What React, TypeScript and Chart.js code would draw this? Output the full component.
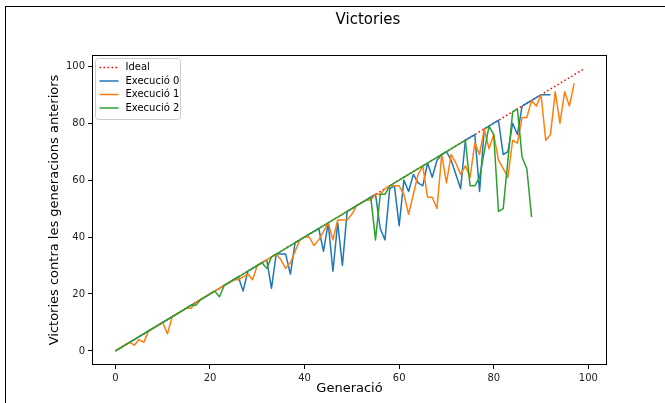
import React, { useEffect, useRef } from "react";
import { Chart, registerables } from "chart.js";

Chart.register(...registerables);

const TITLE = "Victories";
const X_TITLE = "Generació";
const Y_TITLE = "Victories contra les generacions anteriors";
const SERIES_LABELS = ["Ideal", "Execució 0", "Execució 1", "Execució 2"];
const SERIES_COLORS = ["#ff0000", "#1f77b4", "#ff7f0e", "#2ca02c"];
const TICKS = [0, 20, 40, 60, 80, 100];

const IDEAL = [
  0, 1, 2, 3, 4, 5, 6, 7, 8, 9,
  10, 11, 12, 13, 14, 15, 16, 17, 18, 19,
  20, 21, 22, 23, 24, 25, 26, 27, 28, 29,
  30, 31, 32, 33, 34, 35, 36, 37, 38, 39,
  40, 41, 42, 43, 44, 45, 46, 47, 48, 49,
  50, 51, 52, 53, 54, 55, 56, 57, 58, 59,
  60, 61, 62, 63, 64, 65, 66, 67, 68, 69,
  70, 71, 72, 73, 74, 75, 76, 77, 78, 79,
  80, 81, 82, 83, 84, 85, 86, 87, 88, 89,
  90, 91, 92, 93, 94, 95, 96, 97, 98, 99,
];

const EXEC0 = [
  0, 1, 2, 3, 4, 5, 6, 7, 8, 9,
  10, 11, 12, 13, 14, 15, 16, 17, 18, 19,
  20, 21, 22, 23, 24, 25, 26, 21, 28, 29,
  30, 31, 32, 22, 34, 34, 34, 27, 38, 39,
  40, 41, 42, 43, 35, 45, 28, 45, 30, 49,
  50, 51, 52, 53, 54, 55, 43, 39, 57, 58,
  44, 60, 56, 62, 59, 58, 66, 61, 67, 69,
  70, 67, 62, 57, 74, 75, 76, 56, 78, 79,
  80, 81, 69, 70, 80, 76, 86, 87, 88, 89,
  90, 90, 90,
];

const EXEC1 = [
  0, 1, 2, 3, 2, 4, 3, 7, 8, 9,
  10, 6, 12, 13, 14, 15, 15, 17, 18, 19,
  20, 21, 22, 23, 24, 25, 25, 26, 27, 25,
  30, 31, 32, 33, 34, 32, 29, 31, 35, 39,
  40, 40, 37, 39, 42, 45, 39, 46, 46, 46,
  48, 51, 52, 53, 53, 55, 55, 57, 58, 58,
  58, 55, 48, 55, 62, 65, 54, 54, 50, 69,
  59, 69, 66, 62, 65, 61, 73, 69, 78, 71,
  76, 67, 64, 61, 74, 73, 82, 82, 88, 86,
  90, 74, 76, 91, 80, 91, 86, 94,
];

const EXEC2 = [
  0, 1, 2, 3, 4, 5, 6, 7, 8, 9,
  10, 11, 12, 13, 14, 15, 16, 16, 18, 19,
  20, 21, 19, 23, 24, 25, 26, 27, 28, 29,
  30, 31, 29, 33, 34, 35, 36, 37, 38, 39,
  40, 41, 42, 43, 44, 45, 46, 47, 48, 49,
  50, 51, 52, 53, 54, 39, 55, 55, 58, 59,
  60, 61, 62, 63, 64, 65, 66, 67, 68, 69,
  70, 71, 72, 73, 74, 58, 58, 61, 70, 79,
  76, 49, 50, 67, 84, 85, 68, 64, 47,
];

const FONT = '"DejaVu Sans", sans-serif';

const toPoints = (ys: number[]) => ys.map((y, i) => ({ x: i, y }));

const decorPlugin = {
  id: "decor",
  afterDatasetsDraw(chart: any) {
    const { ctx, chartArea } = chart;
    const { left, top, right, bottom } = chartArea;
    ctx.save();
    ctx.strokeStyle = "#000";
    ctx.lineWidth = 1;
    ctx.strokeRect(Math.round(left) + 0.5, Math.round(top) + 0.5, Math.round(right - left) - 1, Math.round(bottom - top) - 1);
    ctx.restore();
  },
  afterDraw(chart: any) {
    const { ctx, chartArea } = chart;
    const { left, top, right, bottom } = chartArea;
    const cx = (left + right) / 2;
    const cy = (top + bottom) / 2;
    ctx.save();
    ctx.fillStyle = "#000";
    ctx.textAlign = "center";
    ctx.textBaseline = "middle";
    ctx.font = `15px ${FONT}`;
    ctx.fillText(TITLE, 368, 20);
    ctx.font = `13px ${FONT}`;
    ctx.fillText(X_TITLE, cx, 389);
    ctx.save();
    ctx.translate(55, cy);
    ctx.rotate(-Math.PI / 2);
    ctx.fillText(Y_TITLE, 0, 0);
    ctx.restore();

    // legend
    const bx = left + 3.5;
    const by = top + 3.5;
    const bw = 85;
    const bh = 61;
    ctx.beginPath();
    (ctx as any).roundRect(bx, by, bw, bh, 3);
    ctx.fillStyle = "rgba(255,255,255,0.8)";
    ctx.fill();
    ctx.strokeStyle = "#cccccc";
    ctx.lineWidth = 1;
    ctx.stroke();
    const rowY = [by + 9, by + 22.5, by + 36, by + 49.5];
    SERIES_LABELS.forEach((lab, i) => {
      const y = rowY[i];
      ctx.beginPath();
      ctx.strokeStyle = SERIES_COLORS[i];
      ctx.lineWidth = 1.5;
      ctx.setLineDash(i === 0 ? [1.5, 2.5] : []);
      ctx.moveTo(bx + 4, y);
      ctx.lineTo(bx + 23, y);
      ctx.stroke();
      ctx.setLineDash([]);
      ctx.fillStyle = "#000";
      ctx.textAlign = "left";
      ctx.font = `10px ${FONT}`;
      ctx.fillText(lab, bx + 30, y);
    });
    ctx.restore();
  },
};

export default function App() {
  const canvasRef = useRef<HTMLCanvasElement | null>(null);

  useEffect(() => {
    const canvas = canvasRef.current;
    if (!canvas) return;
    const lineCommon = {
      pointRadius: 0,
      borderWidth: 1.5,
      fill: false,
      tension: 0,
      borderJoinStyle: "round" as const,
    };
    const chart = new Chart(canvas, {
      type: "line",
      data: {
        datasets: [
          { ...lineCommon, label: SERIES_LABELS[0], data: toPoints(IDEAL), borderColor: SERIES_COLORS[0], borderDash: [1.5, 2.5], order: 3 },
          { ...lineCommon, label: SERIES_LABELS[1], data: toPoints(EXEC0), borderColor: SERIES_COLORS[1], order: 2 },
          { ...lineCommon, label: SERIES_LABELS[2], data: toPoints(EXEC1), borderColor: SERIES_COLORS[2], order: 1 },
          { ...lineCommon, label: SERIES_LABELS[3], data: toPoints(EXEC2), borderColor: SERIES_COLORS[3], order: 0 },
        ],
      },
      options: {
        responsive: false,
        animation: false,
        events: [],
        layout: { padding: { left: 0, top: 55, right: 58, bottom: 0 } },
        plugins: {
          legend: { display: false },
          title: { display: false },
          tooltip: { enabled: false },
        },
        scales: {
          x: {
            type: "linear",
            min: -4.95,
            max: 103.95,
            afterFit: (s: any) => {
              s.height = 38;
            },
            afterBuildTicks: (s: any) => {
              s.ticks = TICKS.map((v) => ({ value: v }));
            },
            ticks: {
              font: { family: FONT, size: 10 },
              color: "#222",
              padding: 3,
              maxRotation: 0,
              autoSkip: false,
              includeBounds: false,
            },
            grid: { drawOnChartArea: false, drawTicks: true, tickLength: 4, color: "#000" },
            border: { display: false },
          },
          y: {
            type: "linear",
            min: -4.95,
            max: 103.95,
            afterFit: (s: any) => {
              s.width = 92;
            },
            afterBuildTicks: (s: any) => {
              s.ticks = TICKS.map((v) => ({ value: v }));
            },
            ticks: {
              font: { family: FONT, size: 10 },
              color: "#222",
              padding: 3,
              autoSkip: false,
              includeBounds: false,
            },
            grid: { drawOnChartArea: false, drawTicks: true, tickLength: 4, color: "#000" },
            border: { display: false },
          },
        },
      },
      plugins: [decorPlugin],
    } as any);
    return () => chart.destroy();
  }, []);

  return (
    <div
      style={{
        position: "absolute",
        left: 0,
        top: 0,
        width: 665,
        height: 403,
        overflow: "hidden",
        background: "#fff",
      }}
    >
      <div
        style={{
          position: "absolute",
          left: 5,
          top: 6,
          width: 800,
          height: 600,
          borderLeft: "1px solid #000",
          borderTop: "1px solid #000",
        }}
      />
      <canvas
        ref={canvasRef}
        width={665}
        height={403}
        style={{ position: "absolute", left: 0, top: 0, width: 665, height: 403 }}
      />
    </div>
  );
}
